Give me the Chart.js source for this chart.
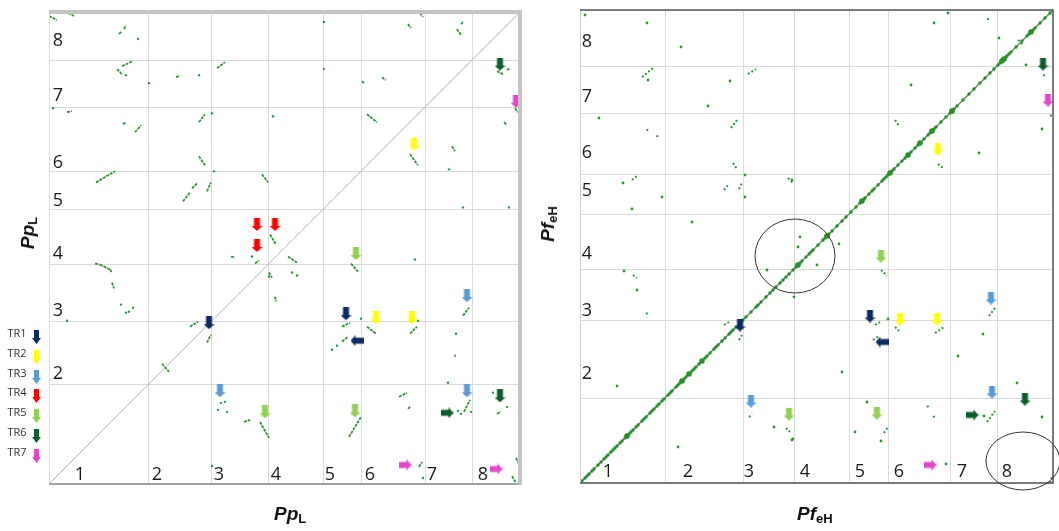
<!DOCTYPE html>
<html>
<head>
<meta charset="utf-8">
<script src="https://cdn.jsdelivr.net/npm/chart.js@4.4.0/dist/chart.umd.min.js"></script>
<style>
  body { margin: 0; background: #fff; width: 1059px; height: 531px; position: relative; overflow: hidden; }
  #c1 { position: absolute; left: 0; top: 0; }
  #c2 { position: absolute; left: 530px; top: 0; }
  .ttl { position: absolute; font-family: "Liberation Sans", Arial, sans-serif; font-weight: bold; font-style: italic;
         font-size: 19px; line-height: 19px; color: #111; white-space: nowrap; }
  .ttl span { font-style: normal; font-size: 13px; vertical-align: -3px; }
  .rot { transform: translate(-50%, -50%) rotate(-90deg); }
</style>
</head>
<body>
<canvas id="c1" width="530" height="531"></canvas>
<canvas id="c2" width="529" height="531"></canvas>
<div class="ttl" style="left:274px; top:504px;">Pp<span>L</span></div>
<div class="ttl" style="left:797px; top:504px;">Pf<span>eH</span></div>
<div class="ttl rot" style="left:30px; top:233px;">Pp<span>L</span></div>
<div class="ttl rot" style="left:550px; top:224px;">Pf<span>eH</span></div>
<script>
// chromosome borders (cumulative position), both axes are the same genome
var chromL = [0, 99, 162, 219, 274, 312, 376, 423, 471];
var chromR = [0, 85, 163, 214, 269, 308, 370, 417, 473];
var chromNames = ['1', '2', '3', '4', '5', '6', '7', '8'];
// where the chromosome numbers sit inside the plot
var xLabPosL = [31, 108, 170, 227, 281, 321, 383, 434];
var yLabPosL = [null, 110, 173, 230, 283, 320, 387, 442];
var xLabPosR = [28, 108, 169, 225, 280, 319, 382, 427];
var yLabPosR = [null, 109, 172, 229, 292, 330, 386, 441];

// syntenic hits, short segments [x1, y1, x2, y2]
var segL = [
  [0,467,8,463],[19,470,25,467],[70,449,73,452],[75,454,77,458],
  [68,414,73,409],[73,417,84,422],[127,406,130,407],[168,415,176,421],
  [18,371,23,372],[74,359,77,361],[86,351,92,358],[150,361,156,369],
  [150,327,156,318],[47,301,66,312],[134,282,141,291],[143,295,148,300],[158,292,162,301],
  [213,309,219,301],[371,470,374,466],[359,459,362,455],[408,454,412,448],[412,459,414,461],
  [313,402,315,400],[333,406,337,403],[448,412,454,409],[458,413,461,415],[466,375,469,371],
  [318,369,328,361],[455,361,458,358],[361,329,369,318],[403,337,406,332],
  [221,249,227,239],[182,227,186,226],[206,220,210,223],[46,220,51,219],[51,219,61,214],[61,214,63,211],[63,201,65,195],
  [141,157,149,162],[158,141,162,149],[113,120,120,112],[195,62,201,64],[211,62,220,46],
  [239,227,248,221],[220,211,223,206],[226,187,227,182],[302,220,309,212],
  [293,157,301,161],[293,142,299,147],[318,157,327,150],[361,150,368,157],[414,168,420,176],
  [406,129,406,127],[415,72,421,84],[350,87,358,91],[359,75,361,77],[448,70,452,72],
  [300,47,312,67],[370,17,373,22],[467,26,470,20],[463,8,467,1]
];
var dotsL = [
  [89,444],[77,408],[100,400],[150,408],[4,375],[163,370],[165,312],[275,461],[275,414],[224,367],
  [400,314],[414,276],[460,276],[203,227],[72,179],[77,171],[80,172],[84,176],[18,163],
  [169,74],[172,81],[176,82],[178,72],[163,18],[220,207],[243,211],[248,208],[366,224],[312,165],
  [283,134],[288,138],[369,163],[407,150],[399,101],[409,73],[412,70],[422,72],[444,91],[458,77],[374,6]
];
var segR = [
  [62,406,73,415],[168,409,176,414],[67,352,68,355],[77,346,78,349],[151,355,157,363],[153,320,157,314],
  [52,303,57,307],[144,293,149,299],[159,294,162,300],[208,305,213,300],[408,465,408,462],
  [438,443,443,438],[463,408,466,407],[470,368,473,366],[315,363,319,357],[358,319,364,314],
  [53,208,57,205],[66,169,69,171],[144,158,149,161],[159,143,162,148],[169,66,172,69],[206,55,210,51],
  [301,213,307,207],[295,158,300,161],[293,143,299,147],[315,156,319,152],[355,150,364,156],[409,167,415,175],
  [407,61,415,72],[347,76,350,78],[353,66,356,67],[304,50,308,56],[470,0,472,6]
];
var dotsR = [
  [0,470],[5,468],[67,460],[101,436],[68,403],[150,402],[128,377],[19,365],[43,300],[82,286],[52,274],
  [165,308],[165,286],[112,261],[368,470],[354,460],[419,445],[446,418],[462,354],[399,330],[331,398],
  [212,303],[44,212],[57,193],[187,213],[214,186],[37,97],[98,36],[194,56],[213,44],[259,239],[237,218],
  [262,111],[308,164],[403,149],[378,127],[437,100],[404,67],[287,81],[301,42],[275,51],[212,43],
  [462,66],[366,19],[218,236],[220,246]
];
// hits on the main diagonal of the right plot (x = y)
var diagR = [2,5,7,9,12,14,18,21,24,26,28,31,33,35,37,40,42,45,47,49,51,53,56,58,62,64,66,70,72,74,77,79,
  82,84,88,90,92,96,98,100,102,104,106,109,112,114,116,119,122,125,127,130,134,136,138,142,145,149,151,
  153,156,160,163,166,171,176,178,181,186,190,193,196,200,203,206,209,213,216,218,220,222,226,229,231,233,
  238,243,245,247,249,252,257,262,266,271,276,280,282,284,285,289,292,294,298,302,304,306,308,310,312,314,
  318,322,325,328,331,335,338,340,344,348,350,352,354,356,361,366,370,372,374,377,383,389,394,400,405,410,
  414,418,420,422,424,426,427,429,431,436,442,447,449,451,453,455,460,465,470];
var diagBigR = [3,20,32,47,102,109,122,143,218,247,282,310,328,340,352,372,422,424,428,451];

// translocation arrows [TR index, x, y, direction]
var trNames = ['TR1', 'TR2', 'TR3', 'TR4', 'TR5', 'TR6', 'TR7'];
var trColors = ['#0d2b60', '#ffff00', '#5b9bd5', '#ff0000', '#92d050', '#0b5f2c', '#e447c9'];
var arrowsL = [
  [0,160,161,'down'],[0,297,170,'down'],[0,308,143,'left'],
  [1,365,339,'down'],[1,327,166,'down'],[1,363,166,'down'],
  [2,171,93,'down'],[2,418,188,'down'],[2,418,93,'down'],
  [3,208,259,'down'],[3,208,238,'down'],[3,226,259,'down'],
  [4,307,230,'down'],[4,216,72,'down'],[4,306,73,'down'],
  [5,451,419,'down'],[5,451,88,'down'],[5,398,71,'right'],
  [6,467,382,'down'],[6,356,19,'right'],[6,447,15,'right']
];
var arrowsR = [
  [0,160,158,'down'],[0,290,167,'down'],[0,302,141,'left'],
  [1,358,334,'down'],[1,320,164,'down'],[1,357,164,'down'],
  [2,171,82,'down'],[2,411,185,'down'],[2,412,91,'down'],
  [4,301,227,'down'],[4,209,69,'down'],[4,297,70,'down'],
  [5,463,419,'down'],[5,445,84,'down'],[5,392,68,'right'],
  [6,468,383,'down'],[6,350,18,'right']
];
// circled regions on the right plot [cx, cy, rx, ry]
var circlesR = [[215, 227, 40, 37], [443, 22, 37, 29]];

var green = '#2f9436';

function makeArrow(color, w, h) {
  var c = document.createElement('canvas');
  c.width = w; c.height = h;
  var g = c.getContext('2d');
  g.fillStyle = color;
  var sw = Math.round(w * 0.5), headH = Math.round(h * 0.42);
  g.fillRect((w - sw) / 2, 0, sw, h - headH + 1);
  g.beginPath();
  g.moveTo(0, h - headH); g.lineTo(w, h - headH); g.lineTo(w / 2, h);
  g.closePath(); g.fill();
  return c;
}
var arrowImgs = trColors.map(function(c) { return makeArrow(c, 11, 13); });
var legendImgs = trColors.map(function(c) { return makeArrow(c, 9, 14); });
var rot = { down: 0, left: 90, right: -90 };

function buildDatasets(segs, dots, arrows, total, right) {
  var ds = [];
  for (var t = 0; t < trNames.length; t++) {
    var pts = arrows.filter(function(a) { return a[0] === t; });
    if (!pts.length) continue;
    ds.push({
      type: 'scatter', order: 0, clip: false,
      data: pts.map(function(a) { return { x: a[1], y: a[2] }; }),
      pointStyle: arrowImgs[t], pointRadius: 6,
      pointRotation: pts.map(function(a) { return rot[a[3]]; })
    });
  }
  ds.push({
    type: 'scatter', order: 1,
    data: dots.map(function(d) { return { x: d[0], y: d[1] }; }),
    pointRadius: right ? 1.4 : 1.2, pointBorderWidth: 0, backgroundColor: green
  });
  segs.forEach(function(s) {
    ds.push({
      type: 'line', order: 2,
      data: [{ x: s[0], y: s[1] }, { x: s[2], y: s[3] }],
      borderColor: green, borderWidth: right ? 2 : 1.8, pointRadius: 0,
      borderDash: right ? [2, 2] : [3, 1]
    });
  });
  if (right) {
    ds.push({
      type: 'scatter', order: 3,
      data: diagR.map(function(v) { return { x: v, y: v }; }),
      pointRadius: diagR.map(function(v) { return diagBigR.indexOf(v) >= 0 ? 2.8 : 1.7; }),
      pointBorderWidth: 0, backgroundColor: '#2a8f2a'
    });
  }
  ds.push({
    type: 'line', order: 4,
    data: [{ x: 0, y: 0 }, { x: total, y: total }],
    borderColor: right ? '#3f9d3f' : '#9fbd9f', borderWidth: right ? 1.3 : 1, pointRadius: 0
  });
  return ds;
}

function scaleOpts(bounds, horiz) {
  return {
    type: 'linear', min: 0, max: bounds[bounds.length - 1],
    afterBuildTicks: function(s) { s.ticks = bounds.map(function(v) { return { value: v }; }); },
    afterFit: function(s) { if (horiz) s.height = 0; else s.width = 0; },
    ticks: { display: false },
    grid: { color: '#dadada', lineWidth: 1, drawTicks: false },
    border: { display: false }
  };
}

function labelPlugin(xPos, yPos, labX, labY) {
  return {
    id: 'chromLabels',
    afterDraw: function(chart) {
      var ctx = chart.ctx, sx = chart.scales.x, sy = chart.scales.y;
      ctx.save();
      ctx.font = '18px "Open Sans", sans-serif';
      ctx.fillStyle = '#1a1a1a';
      ctx.textAlign = 'center';
      ctx.textBaseline = 'middle';
      chromNames.forEach(function(n, i) {
        ctx.fillText(n, sx.getPixelForValue(xPos[i]), sy.getPixelForValue(labY));
        if (yPos[i] !== null) ctx.fillText(n, sx.getPixelForValue(labX), sy.getPixelForValue(yPos[i]));
      });
      ctx.restore();
    }
  };
}

var frameLeft = {
  id: 'frameLeft',
  afterDraw: function(chart) {
    var a = chart.chartArea, ctx = chart.ctx;
    ctx.save();
    ctx.strokeStyle = '#dadada'; ctx.lineWidth = 1;
    ctx.beginPath(); ctx.moveTo(a.left + 0.5, a.top); ctx.lineTo(a.left + 0.5, a.bottom); ctx.stroke();
    ctx.strokeStyle = '#a3a3a3'; ctx.lineWidth = 2;
    ctx.beginPath(); ctx.moveTo(a.left, a.bottom); ctx.lineTo(a.right, a.bottom); ctx.stroke();
    ctx.strokeStyle = '#c4c4c4'; ctx.lineWidth = 4;
    ctx.beginPath(); ctx.moveTo(a.left, a.top); ctx.lineTo(a.right + 2, a.top);
    ctx.moveTo(a.right, a.top); ctx.lineTo(a.right, a.bottom + 1); ctx.stroke();
    // legend
    ctx.font = '11px "Open Sans", sans-serif';
    ctx.fillStyle = '#333';
    ctx.textAlign = 'center';
    ctx.textBaseline = 'middle';
    var ys = [334, 354, 374, 393, 413, 433, 453];
    trNames.forEach(function(n, i) {
      ctx.fillText(n, 17, ys[i]);
      ctx.drawImage(legendImgs[i], 32, ys[i] - 4);
    });
    ctx.restore();
  }
};

var frameRight = {
  id: 'frameRight',
  afterDraw: function(chart) {
    var a = chart.chartArea, ctx = chart.ctx, sx = chart.scales.x, sy = chart.scales.y;
    ctx.save();
    ctx.strokeStyle = '#d0d0d0'; ctx.lineWidth = 1;
    ctx.beginPath(); ctx.moveTo(a.left + 0.5, a.top); ctx.lineTo(a.left + 0.5, a.bottom); ctx.stroke();
    ctx.strokeStyle = '#555'; ctx.lineWidth = 1.5;
    ctx.beginPath(); ctx.moveTo(a.left, a.top); ctx.lineTo(a.right, a.top); ctx.lineTo(a.right, a.bottom);
    ctx.lineTo(a.left, a.bottom); ctx.stroke();
    ctx.strokeStyle = '#333'; ctx.lineWidth = 1;
    circlesR.forEach(function(c) {
      var cx = sx.getPixelForValue(c[0]), cy = sy.getPixelForValue(c[1]);
      var rx = sx.getPixelForValue(c[0] + c[2]) - cx, ry = cy - sy.getPixelForValue(c[1] + c[3]);
      ctx.beginPath(); ctx.ellipse(cx, cy, rx, ry, 0, 0, Math.PI * 2); ctx.stroke();
    });
    ctx.restore();
  }
};

function makeChart(id, bounds, segs, dots, arrows, right, pad, plugins) {
  var total = bounds[bounds.length - 1];
  return new Chart(document.getElementById(id), {
    type: 'scatter',
    data: { datasets: buildDatasets(segs, dots, arrows, total, right) },
    options: {
      responsive: false, animation: false, devicePixelRatio: 1, events: [],
      layout: { padding: pad, autoPadding: false },
      plugins: { legend: { display: false }, tooltip: { enabled: false } },
      scales: { x: scaleOpts(bounds, true), y: scaleOpts(bounds, false) }
    },
    plugins: plugins
  });
}

makeChart('c1', chromL, segL, dotsL, arrowsL, false,
  { left: 49, top: 12, right: 10, bottom: 47 },
  [frameLeft, labelPlugin(xLabPosL, yLabPosL, 9, 9)]);
makeChart('c2', chromR, segR, dotsR, arrowsR, true,
  { left: 50, top: 10, right: 6, bottom: 48 },
  [frameRight, labelPlugin(xLabPosR, yLabPosR, 7, 11)]);
</script>
</body>
</html>
